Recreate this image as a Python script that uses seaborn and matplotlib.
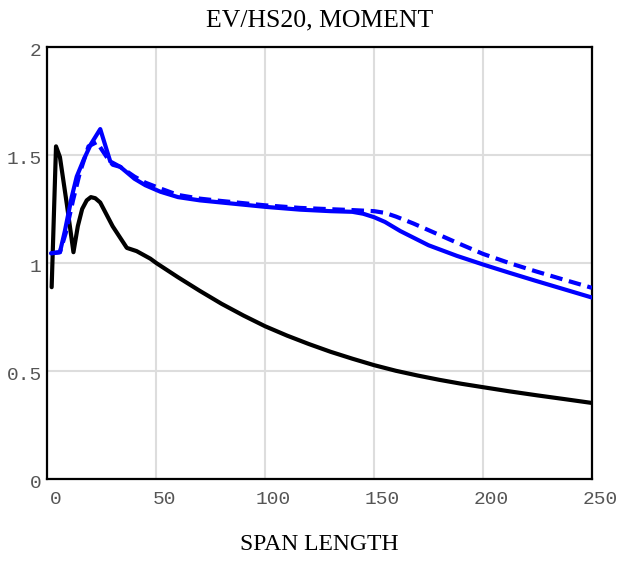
import matplotlib
matplotlib.use("Agg")
import matplotlib.pyplot as plt
import matplotlib.transforms as mtransforms
import seaborn as sns
import pandas as pd

# Black curve
black_x = [2.0, 4.0, 5.8, 9.0, 12.0, 14.0, 16.0, 18.1, 20.0, 22.0, 24.3, 30.0, 36.5, 41.0, 47.3,
           50.0, 60.0, 70.0, 80.0, 90.0, 100.0, 110.0, 120.0, 130.0, 140.0, 150.0, 160.0,
           170.0, 180.0, 190.0, 200.0, 212.0, 225.0, 238.0, 250.0]
black_y = [0.888, 1.54, 1.49, 1.27, 1.05, 1.17, 1.25, 1.29, 1.305, 1.30, 1.28, 1.17, 1.07, 1.055, 1.02,
           1.0, 0.934, 0.871, 0.811, 0.757, 0.707, 0.664, 0.625, 0.589, 0.557, 0.527, 0.501,
           0.479, 0.459, 0.441, 0.425, 0.406, 0.387, 0.369, 0.352]

# Blue solid curve
solid_x = [1.7, 5.8, 8.1, 11.2, 13.5, 16.6, 20.0, 24.3, 28.9, 33.5, 40.0, 45.0, 51.9, 60.0, 70.0,
           80.0, 90.0, 100.0, 116.0, 130.0, 140.0, 145.0, 150.0, 155.0, 162.0, 175.0, 188.0,
           200.0, 212.0, 224.0, 237.0, 250.0]
solid_y = [1.045, 1.05, 1.15, 1.305, 1.40, 1.476, 1.55, 1.62, 1.47, 1.445, 1.39, 1.36, 1.33, 1.305, 1.29,
           1.28, 1.27, 1.26, 1.247, 1.24, 1.237, 1.228, 1.212, 1.19, 1.148, 1.082, 1.033,
           0.993, 0.955, 0.918, 0.879, 0.840]

# Blue dashed curve
dash_x = [1.7, 5.8, 8.5, 11.8, 15.0, 18.9, 22.7, 27.3, 30.0, 33.5, 40.0, 45.0, 51.9, 60.0, 70.0,
          80.0, 90.0, 100.0, 116.0, 130.0, 140.0, 150.0, 155.0, 160.0, 168.0, 175.0, 188.0,
          200.0, 212.0, 224.0, 237.0, 250.0]
dash_y = [1.045, 1.05, 1.14, 1.29, 1.42, 1.54, 1.56, 1.49, 1.455, 1.445, 1.40, 1.372, 1.345, 1.315, 1.298,
          1.287, 1.277, 1.267, 1.255, 1.249, 1.245, 1.24, 1.232, 1.215, 1.183, 1.152, 1.094,
          1.042, 1.0, 0.962, 0.923, 0.885]

x_ticks = [0, 50, 100, 150, 200, 250]
y_ticks = [0, 0.5, 1, 1.5, 2]
y_tick_labels = ["0", "0.5", "1", "1.5", "2"]

sns.set_theme(style="white")
plt.rcParams['font.family'] = ['Liberation Mono', 'DejaVu Sans Mono']

fig = plt.figure(figsize=(6.19, 5.61), dpi=100)
ax = fig.add_axes([47.3/619, (561-479)/561, (592-47.3)/619, (479-47)/561])

df_b = pd.DataFrame({"x": black_x, "y": black_y})
df_s = pd.DataFrame({"x": solid_x, "y": solid_y})
df_d = pd.DataFrame({"x": dash_x, "y": dash_y})

sns.lineplot(data=df_b, x="x", y="y", ax=ax, color="black", lw=3.0, sort=False, zorder=3,
             solid_joinstyle="round", solid_capstyle="round")
sns.lineplot(data=df_s, x="x", y="y", ax=ax, color="#0000ff", lw=3.0, sort=False, zorder=3,
             solid_joinstyle="round", solid_capstyle="round")
sns.lineplot(data=df_d, x="x", y="y", ax=ax, color="#0000ff", lw=3.0, sort=False, zorder=3,
             linestyle=(0, (3.0, 1.6)), dash_joinstyle="round")

ax.set_xlim(0, 250)
ax.set_ylim(0, 2)
ax.set_xticks(x_ticks)
ax.set_xticklabels([str(v) for v in x_ticks])
ax.set_yticks(y_ticks)
ax.set_yticklabels(y_tick_labels)
ax.grid(True, color="#dddddd", lw=1.5)
ax.set_axisbelow(True)
ax.tick_params(length=0, labelsize=14, labelcolor="#555555")
ax.tick_params(axis="x", pad=8.5)
ax.tick_params(axis="y", pad=4)
for lab in ax.get_xticklabels():
    lab.set_transform(lab.get_transform() + mtransforms.ScaledTranslation(8/100, 0, fig.dpi_scale_trans))
for lab in ax.get_yticklabels():
    lab.set_transform(lab.get_transform() + mtransforms.ScaledTranslation(0, -3/100, fig.dpi_scale_trans))
for s in ax.spines.values():
    s.set_visible(True)
    s.set_color("black")
    s.set_linewidth(1.6)

ax.set_xlabel("SPAN LENGTH", fontfamily="Liberation Serif", fontsize=17, color="black", labelpad=19)
ax.set_ylabel("")
ax.set_title("EV/HS20, MOMENT", fontfamily="Liberation Serif", fontsize=18.5, color="black", pad=14.5)

fig.savefig("out.png", dpi=100)
